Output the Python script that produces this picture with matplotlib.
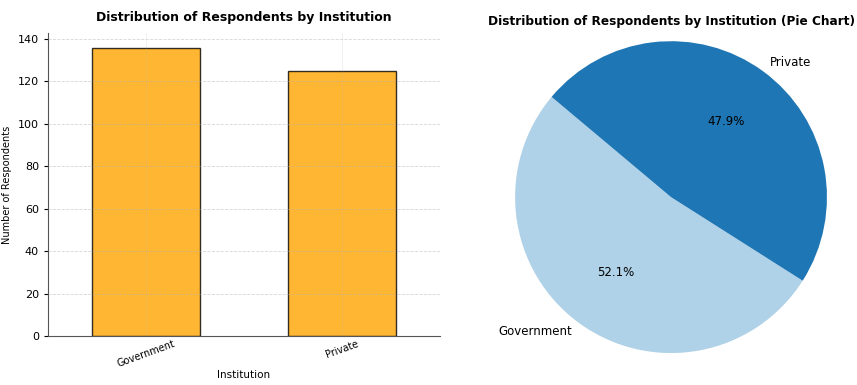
import matplotlib
matplotlib.use('Agg')
import matplotlib.pyplot as plt

institutions = ['Government', 'Private']
counts = [136, 125]
pie_colors = ['#b0d2e8', '#1f76b4']

plt.rcParams['font.family'] = ['DejaVu Sans']

fig = plt.figure(figsize=(8.57, 3.85), dpi=100)

# bar chart
ax1 = fig.add_axes([0.056, 0.127, 0.457, 0.787])
ax1.bar(institutions, counts, width=0.55, color='orange', alpha=0.8, edgecolor='black')
ax1.set_xlim(-0.5, 1.5)
ax1.set_title('Distribution of Respondents by Institution', fontsize=9, fontweight='bold', pad=9)
ax1.set_xlabel('Institution', fontsize=7.5, labelpad=1)
ax1.set_ylabel('Number of Respondents', fontsize=7)
ax1.tick_params(axis='x', labelsize=7, rotation=20, length=0, pad=2)
ax1.tick_params(axis='y', labelsize=8, length=3)
ax1.set_yticks(range(0, 141, 20))
ax1.grid(True, linestyle='--', alpha=0.5, linewidth=0.6)
ax1.grid(True, axis='x', alpha=0.2, linestyle='-')
ax1.spines['top'].set_visible(False)
ax1.spines['right'].set_visible(False)
ax1.spines['left'].set_color('#555555')
ax1.spines['bottom'].set_color('#555555')

# pie chart
ax2 = fig.add_axes([0.601, 0.083, 0.364, 0.810])
ax2.pie(counts, labels=institutions, autopct='%1.1f%%', startangle=140,
        colors=pie_colors, labeldistance=1.07, textprops={'fontsize': 8.5})
ax2.set_xlim(-1, 1)
ax2.set_ylim(-1, 1)
ax2.set_aspect('equal')
ax2.set_title('Distribution of Respondents by Institution (Pie Chart)', fontsize=8.7,
              fontweight='bold', pad=12, x=0.5)

plt.savefig('out.png')
